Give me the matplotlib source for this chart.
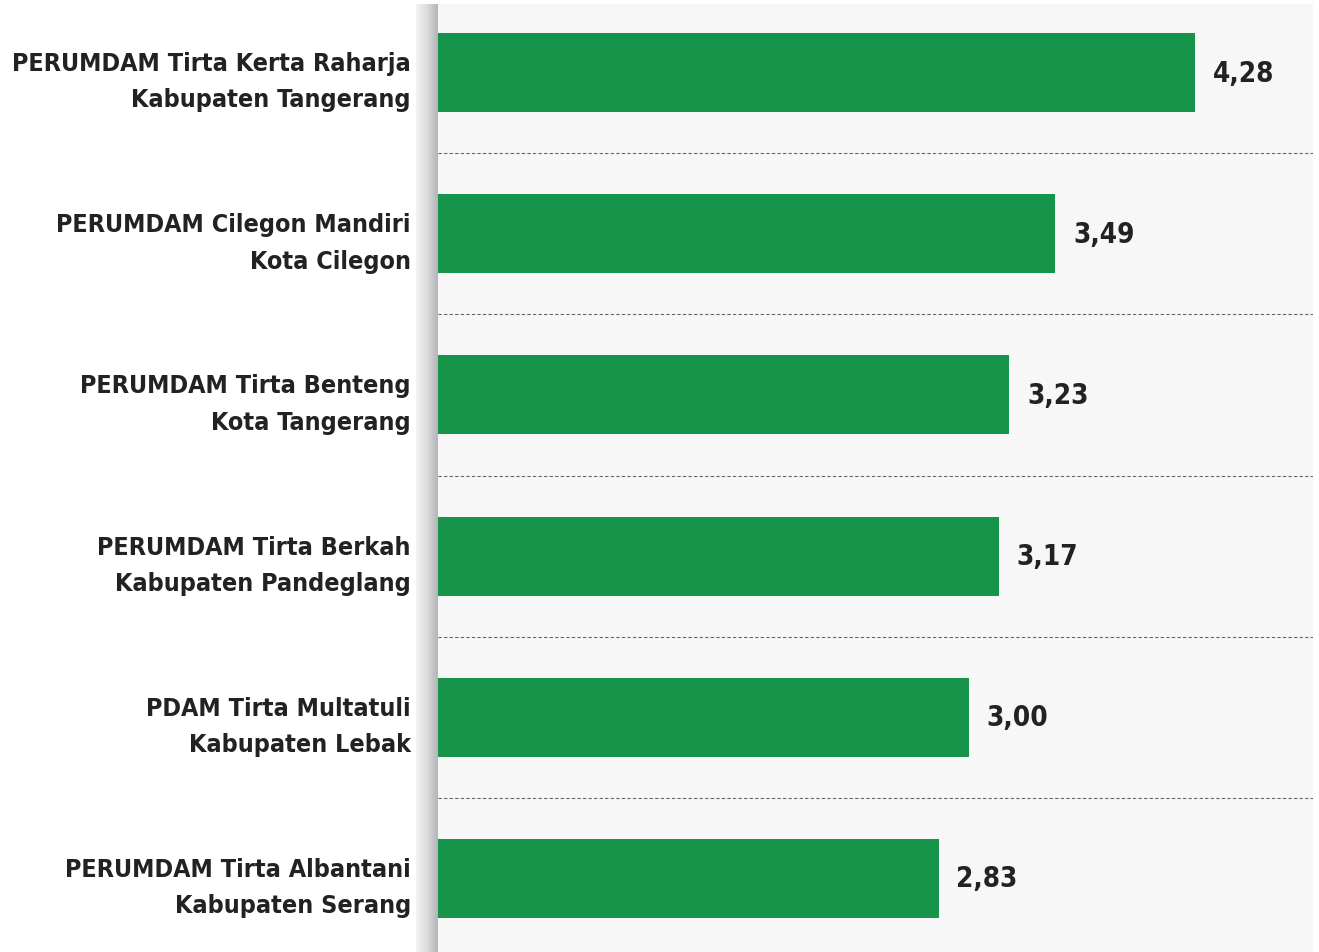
import numpy as np
import matplotlib
matplotlib.use("Agg")
import matplotlib.pyplot as plt
from matplotlib.colors import LinearSegmentedColormap

# data
names = [
    "PERUMDAM Tirta Kerta Raharja\nKabupaten Tangerang",
    "PERUMDAM Cilegon Mandiri\nKota Cilegon",
    "PERUMDAM Tirta Benteng\nKota Tangerang",
    "PERUMDAM Tirta Berkah\nKabupaten Pandeglang",
    "PDAM Tirta Multatuli\nKabupaten Lebak",
    "PERUMDAM Tirta Albantani\nKabupaten Serang",
]
values = [4.28, 3.49, 3.23, 3.17, 3.00, 2.83]

GREEN = "#16954a"
TEXT = "#222222"
FONT = ["DejaVu Sans Condensed", "DejaVu Sans"]

W, H = 1319, 953
fig = plt.figure(figsize=(W / 100, H / 100), dpi=100)
fig.patch.set_facecolor("white")

# grey shaded strip left of the panel
strip = fig.add_axes([416 / W, 0, 22 / W, 948 / H])
shade = LinearSegmentedColormap.from_list("shade", ["#f2f2f2", "#dcdcde", "#b4b4b8"])
strip.imshow(np.linspace(0, 1, 64).reshape(1, -1), aspect="auto", cmap=shade,
             extent=[0, 1, 0, 1])
strip.set_axis_off()

ax = fig.add_axes([438 / W, 0, (1313 - 438) / W, 948 / H])
ax.set_facecolor("#f7f7f7")
y = np.arange(len(values))
ax.barh(y, values, height=0.49, color=GREEN, zorder=3)

ax.set_xlim(0, (1313 - 438) / 176.9)
ax.set_ylim(len(values) - 0.544, -0.425)

for i in range(len(values) - 1):
    ax.axhline(i + 0.5, color="#666666", lw=0.8, ls=(0, (3, 2)), zorder=2)

for yi, v in zip(y, values):
    ax.text(v + 0.1, yi, f"{v:.2f}".replace(".", ","), va="center", ha="left",
            fontsize=20, fontweight="bold", fontstretch="condensed",
            color=TEXT, family=FONT)

ax.set_yticks(y)
ax.set_yticklabels(names, fontsize=18, fontweight="bold", fontstretch="condensed",
                   color=TEXT, family=FONT, linespacing=1.65)
ax.tick_params(axis="y", length=0, pad=19.5)
ax.set_xticks([])
for s in ax.spines.values():
    s.set_visible(False)

fig.savefig("out.png", dpi=100)
